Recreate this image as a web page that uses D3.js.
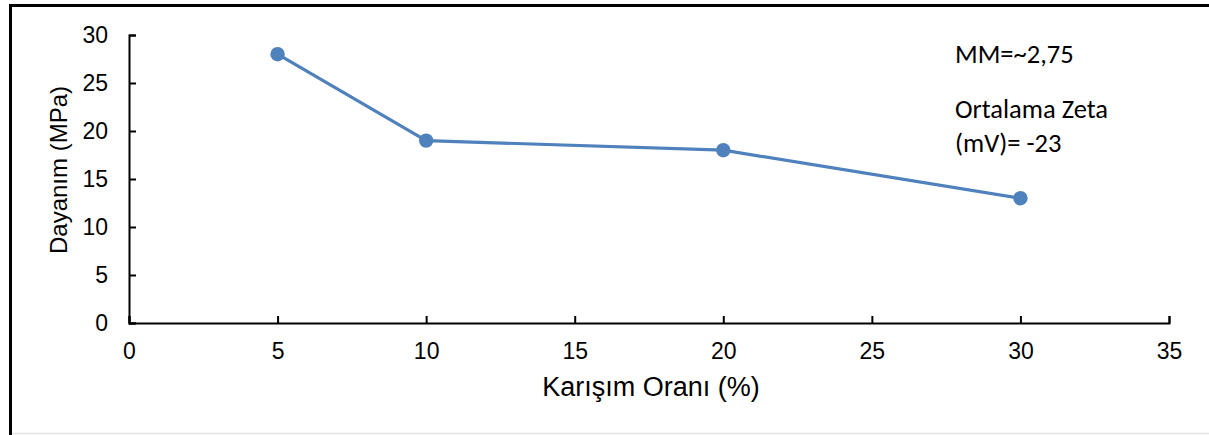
<!DOCTYPE html>
<html>
<head>
<meta charset="utf-8">
<script src="https://cdn.jsdelivr.net/npm/d3@7"></script>
<style>
  html, body { margin: 0; padding: 0; background: #fff; }
  svg { display: block; }
</style>
</head>
<body>
<div id="chart"></div>
<script>
// Mixing ratio (%) and strength (MPa)
const mixRatio = [5, 10, 20, 30];
const strength = [28, 19, 18, 13];
const xTicks = [0, 5, 10, 15, 20, 25, 30, 35];
const yTicks = [0, 5, 10, 15, 20, 25, 30];
const noteBlocks = [["MM=~2,75"], ["Ortalama Zeta", "(mV)= -23"]];

const W = 1209, H = 435;
const svg = d3.select("#chart").append("svg").attr("width", W).attr("height", H);

// frame
svg.append("line").attr("x1", 9).attr("x2", 1209).attr("y1", 5.5).attr("y2", 5.5)
  .attr("stroke", "#000").attr("stroke-width", 3);
svg.append("line").attr("x1", 10.5).attr("x2", 10.5).attr("y1", 4).attr("y2", 435)
  .attr("stroke", "#000").attr("stroke-width", 3);
svg.append("line").attr("x1", 12).attr("x2", 1209).attr("y1", 433.5).attr("y2", 433.5)
  .attr("stroke", "#e3e3e3").attr("stroke-width", 1.5);

const x = d3.scaleLinear().domain([0, 35]).range([129, 1169]);
const y = d3.scaleLinear().domain([0, 30]).range([323, 35]);

const tickFont = "'Liberation Sans', Arial, sans-serif";

const xAxis = svg.append("g").attr("transform", `translate(0,${y(0)})`)
  .call(d3.axisBottom(x).tickValues(xTicks).tickSizeInner(-7).tickSizeOuter(-7).tickPadding(20));
const yAxis = svg.append("g").attr("transform", `translate(${x(0)},0)`)
  .call(d3.axisLeft(y).tickValues(yTicks).tickSizeInner(-7).tickSizeOuter(-7).tickPadding(21));

[xAxis, yAxis].forEach(g => {
  g.select(".domain").attr("stroke", "#000").attr("stroke-width", 2);
  g.selectAll(".tick line").attr("stroke", "#000").attr("stroke-width", 2);
  g.selectAll(".tick text").attr("font-family", tickFont).attr("font-size", 23).attr("fill", "#000");
});

// axis titles
svg.append("text").attr("x", 651).attr("y", 396).attr("text-anchor", "middle")
  .attr("font-family", tickFont).attr("font-size", 27).attr("fill", "#000")
  .text("Karışım Oranı (%)");
svg.append("text").attr("transform", `translate(67,170) rotate(-90)`).attr("text-anchor", "middle")
  .attr("font-family", tickFont).attr("font-size", 24).attr("fill", "#000")
  .text("Dayanım (MPa)");

// series line and markers
const pts = mixRatio.map((d, i) => [d, strength[i]]);
svg.append("path").datum(pts)
  .attr("d", d3.line().x(d => x(d[0])).y(d => y(d[1])))
  .attr("fill", "none").attr("stroke", "#4F81BD").attr("stroke-width", 3.2)
  .attr("stroke-linejoin", "round");
svg.selectAll("circle.pt").data(pts).enter().append("circle")
  .attr("class", "pt")
  .attr("cx", d => x(d[0])).attr("cy", d => y(d[1])).attr("r", 7.2)
  .attr("fill", "#4F81BD");

// annotation text blocks
const blockTop = [63, 118];
noteBlocks.forEach((lines, b) => {
  svg.append("g").selectAll("text").data(lines).enter().append("text")
    .attr("x", 955).attr("y", (d, i) => blockTop[b] + i * 34)
    .attr("font-family", "Carlito, Calibri, Lato, sans-serif").attr("font-size", 26.5).attr("fill", "#000")
    .text(d => d);
});
</script>
</body>
</html>
